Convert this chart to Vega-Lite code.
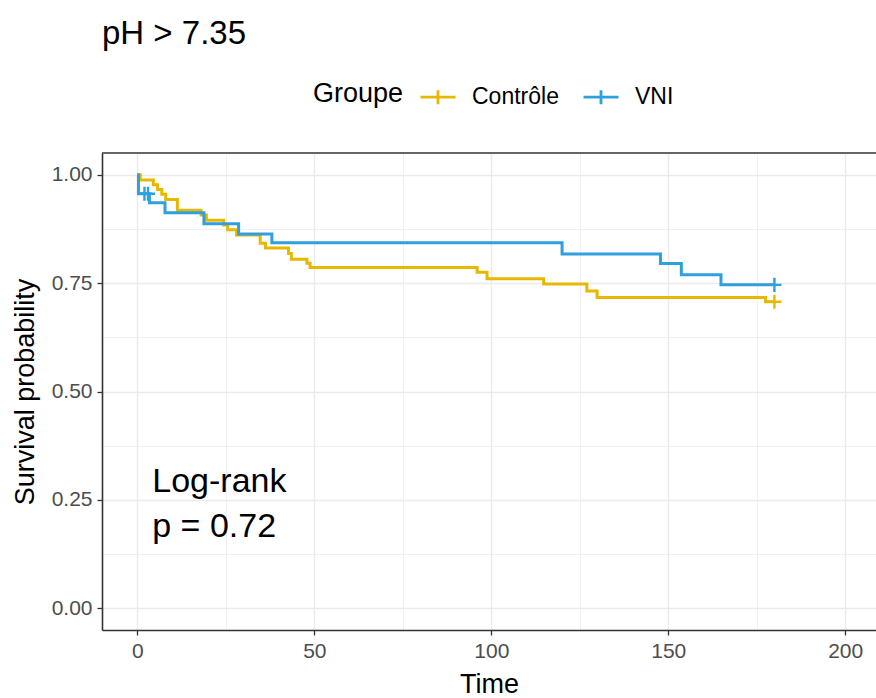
{
  "$schema": "https://vega.github.io/schema/vega-lite/v6.json",
  "width": 774,
  "height": 477,
  "autosize": {"type": "none"},
  "padding": {"left": 102, "top": 153, "right": 0, "bottom": 68},
  "background": "white",
  "config": {
    "view": {"stroke": null},
    "font": "Liberation Sans",
    "axis": {
      "gridColor": "#EBEBEB",
      "domainColor": "#333333",
      "domainWidth": 1.6,
      "tickColor": "#333333",
      "tickSize": 5,
      "tickWidth": 1.3,
      "labelColor": "#4D4D4D",
      "labelFontSize": 21,
      "titleFontSize": 27,
      "titleFontWeight": "normal",
      "titleColor": "black"
    }
  },
  "title": {
    "text": "pH > 7.35",
    "anchor": "start",
    "frame": "group",
    "fontSize": 33,
    "fontWeight": "normal",
    "color": "black",
    "offset": 27
  },
  "datasets": {
    "curves": [
      {"group": "Contrôle", "time": 0, "surv": 1.0},
      {"group": "Contrôle", "time": 0.8, "surv": 0.988},
      {"group": "Contrôle", "time": 4.5, "surv": 0.977},
      {"group": "Contrôle", "time": 5.7, "surv": 0.966},
      {"group": "Contrôle", "time": 6.9, "surv": 0.955},
      {"group": "Contrôle", "time": 8.0, "surv": 0.943},
      {"group": "Contrôle", "time": 11.3, "surv": 0.918},
      {"group": "Contrôle", "time": 18.0, "surv": 0.907},
      {"group": "Contrôle", "time": 19.5, "surv": 0.895},
      {"group": "Contrôle", "time": 24.4, "surv": 0.884},
      {"group": "Contrôle", "time": 25.5, "surv": 0.873},
      {"group": "Contrôle", "time": 28.0, "surv": 0.861},
      {"group": "Contrôle", "time": 34.7, "surv": 0.842},
      {"group": "Contrôle", "time": 36.2, "surv": 0.831},
      {"group": "Contrôle", "time": 42.7, "surv": 0.818},
      {"group": "Contrôle", "time": 43.5, "surv": 0.805},
      {"group": "Contrôle", "time": 47.9, "surv": 0.796},
      {"group": "Contrôle", "time": 48.8, "surv": 0.786},
      {"group": "Contrôle", "time": 96.0, "surv": 0.775},
      {"group": "Contrôle", "time": 98.8, "surv": 0.76},
      {"group": "Contrôle", "time": 114.8, "surv": 0.748},
      {"group": "Contrôle", "time": 127.0, "surv": 0.732},
      {"group": "Contrôle", "time": 129.9, "surv": 0.717},
      {"group": "Contrôle", "time": 177.5, "surv": 0.707},
      {"group": "Contrôle", "time": 180, "surv": 0.707},
      {"group": "VNI", "time": 0, "surv": 1.0},
      {"group": "VNI", "time": 0.3, "surv": 0.956},
      {"group": "VNI", "time": 3.4, "surv": 0.935},
      {"group": "VNI", "time": 7.8, "surv": 0.912},
      {"group": "VNI", "time": 18.8, "surv": 0.887},
      {"group": "VNI", "time": 28.6, "surv": 0.863},
      {"group": "VNI", "time": 38.0, "surv": 0.843},
      {"group": "VNI", "time": 120.0, "surv": 0.817},
      {"group": "VNI", "time": 147.8, "surv": 0.795},
      {"group": "VNI", "time": 153.7, "surv": 0.769},
      {"group": "VNI", "time": 164.9, "surv": 0.746},
      {"group": "VNI", "time": 180, "surv": 0.746}
    ],
    "censors": [
      {"group": "VNI", "time": 2, "surv": 0.956},
      {"group": "VNI", "time": 3, "surv": 0.956},
      {"group": "VNI", "time": 180, "surv": 0.746},
      {"group": "Contrôle", "time": 180, "surv": 0.707}
    ]
  },
  "layer": [
    {
      "data": {"name": "curves"},
      "mark": {"type": "line", "interpolate": "step-after", "strokeWidth": 3},
      "encoding": {
        "x": {
          "field": "time",
          "type": "quantitative",
          "title": "Time",
          "scale": {"domain": [-10, 208.7], "nice": false, "zero": false},
          "axis": {
            "values": [0, 25, 50, 75, 100, 125, 150, 175, 200],
            "labelExpr": "datum.value % 50 == 0 ? datum.label : ''",
            "tickOpacity": {"condition": {"test": "datum.value % 50 != 0", "value": 0}, "value": 1},
            "gridWidth": {"condition": {"test": "datum.value % 50 != 0", "value": 0.7}, "value": 1.4},
            "labelPadding": 5,
            "titlePadding": 10
          }
        },
        "y": {
          "field": "surv",
          "type": "quantitative",
          "title": "Survival probability",
          "scale": {"domain": [-0.05, 1.05], "nice": false, "zero": false},
          "axis": {
            "values": [0, 0.125, 0.25, 0.375, 0.5, 0.625, 0.75, 0.875, 1],
            "format": ".2f",
            "labelExpr": "round(datum.value * 4) == datum.value * 4 ? datum.label : ''",
            "tickOpacity": {"condition": {"test": "round(datum.value * 4) != datum.value * 4", "value": 0}, "value": 1},
            "gridWidth": {"condition": {"test": "round(datum.value * 4) != datum.value * 4", "value": 0.7}, "value": 1.4},
            "labelPadding": 5,
            "titlePadding": 12
          }
        },
        "order": {"field": "time", "type": "quantitative"},
        "color": {
          "field": "group",
          "type": "nominal",
          "scale": {"domain": ["Contrôle", "VNI"], "range": ["#E7B800", "#2E9FDF"]},
          "legend": {
            "orient": "none",
            "legendX": 211,
            "legendY": -75,
            "direction": "horizontal",
            "title": "Groupe",
            "titleOrient": "left",
            "titleFontSize": 27,
            "titleFontWeight": "normal",
            "titleColor": "black",
            "titleBaseline": "middle",
            "titlePadding": 15,
            "labelFontSize": 23,
            "labelColor": "black",
            "labelOffset": 15,
            "columnPadding": 18,
            "symbolType": "M-1,0H1M0,-0.4V0.4",
            "symbolSize": 1225,
            "symbolStrokeWidth": 2.8
          }
        }
      }
    },
    {
      "data": {"name": "censors"},
      "mark": {"type": "point", "shape": "M-1,0H1M0,-1V1", "filled": false, "size": 200, "strokeWidth": 2.4, "opacity": 1},
      "encoding": {
        "x": {"field": "time", "type": "quantitative", "title": "Time"},
        "y": {"field": "surv", "type": "quantitative", "title": "Survival probability"},
        "color": {"field": "group", "type": "nominal"}
      }
    },
    {
      "data": {"values": [{"note": "border"}]},
      "mark": {"type": "rule", "color": "#333333", "strokeWidth": 1.6},
      "encoding": {"y": {"datum": 1.05, "type": "quantitative", "title": "Survival probability"}}
    },
    {
      "data": {"values": [{"note": "logrank"}]},
      "mark": {"type": "text", "text": ["Log-rank", "p = 0.72"], "align": "left", "baseline": "alphabetic", "fontSize": 34, "lineHeight": 45, "color": "black"},
      "encoding": {
        "x": {"datum": 4.2, "type": "quantitative", "title": "Time"},
        "y": {"datum": 0.268, "type": "quantitative", "title": "Survival probability"}
      }
    }
  ]
}
